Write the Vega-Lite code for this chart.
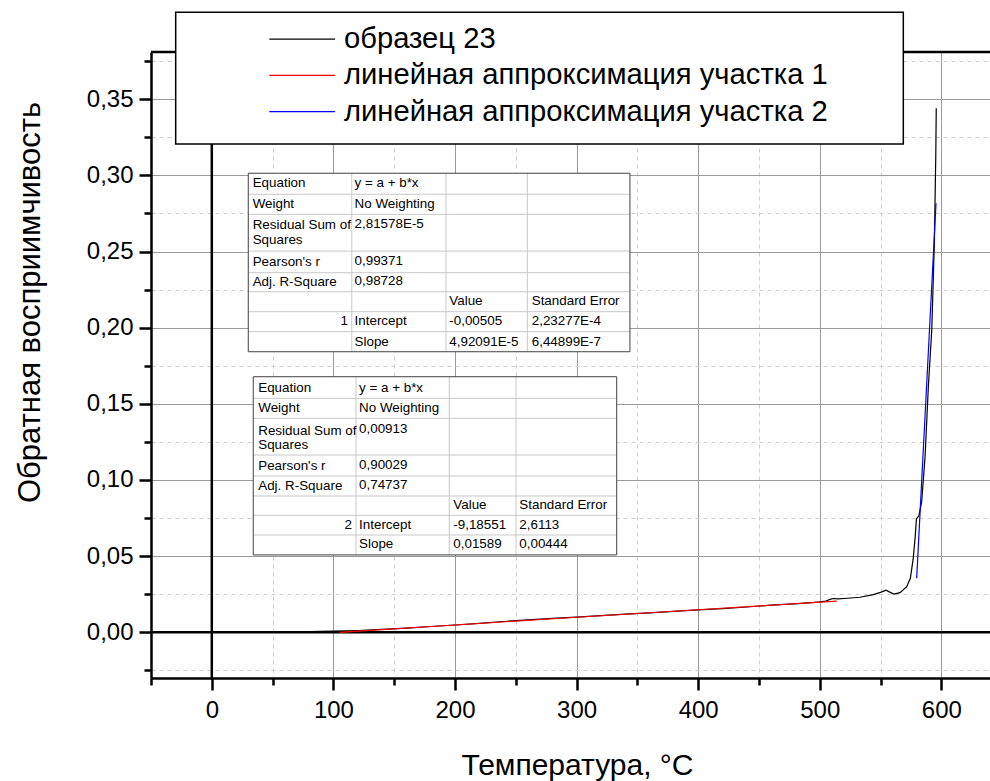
{
  "$schema": "https://vega.github.io/schema/vega-lite/v6.json",
  "width": 839,
  "height": 626,
  "autosize": "none",
  "padding": {"left": 151, "top": 52, "right": 0, "bottom": 103},
  "background": "white",
  "config": {"view": {"stroke": null}, "font": "Liberation Sans", "text": {"font": "Liberation Sans"}},
  "datasets": {
    "series": [
      {"s": "образец 23", "x": 28, "y": 0.0},
      {"s": "образец 23", "x": 40, "y": 0.0001},
      {"s": "образец 23", "x": 60, "y": 0.0003},
      {"s": "образец 23", "x": 80, "y": 0.0005},
      {"s": "образец 23", "x": 100, "y": 0.0008},
      {"s": "образец 23", "x": 120, "y": 0.0012},
      {"s": "образец 23", "x": 140, "y": 0.0019},
      {"s": "образец 23", "x": 160, "y": 0.0028},
      {"s": "образец 23", "x": 180, "y": 0.0038},
      {"s": "образец 23", "x": 200, "y": 0.0048},
      {"s": "образец 23", "x": 220, "y": 0.0059},
      {"s": "образец 23", "x": 240, "y": 0.0071},
      {"s": "образец 23", "x": 260, "y": 0.0081},
      {"s": "образец 23", "x": 280, "y": 0.0091},
      {"s": "образец 23", "x": 300, "y": 0.0100},
      {"s": "образец 23", "x": 320, "y": 0.0109},
      {"s": "образец 23", "x": 340, "y": 0.0119},
      {"s": "образец 23", "x": 360, "y": 0.0128},
      {"s": "образец 23", "x": 380, "y": 0.0138},
      {"s": "образец 23", "x": 400, "y": 0.0147},
      {"s": "образец 23", "x": 420, "y": 0.0156},
      {"s": "образец 23", "x": 440, "y": 0.0166},
      {"s": "образец 23", "x": 460, "y": 0.0178},
      {"s": "образец 23", "x": 475, "y": 0.0185},
      {"s": "образец 23", "x": 485, "y": 0.0190},
      {"s": "образец 23", "x": 495, "y": 0.0196},
      {"s": "образец 23", "x": 500, "y": 0.0200},
      {"s": "образец 23", "x": 505, "y": 0.0205},
      {"s": "образец 23", "x": 508, "y": 0.0215},
      {"s": "образец 23", "x": 511, "y": 0.0222},
      {"s": "образец 23", "x": 515, "y": 0.0219},
      {"s": "образец 23", "x": 520, "y": 0.0222},
      {"s": "образец 23", "x": 533, "y": 0.0230},
      {"s": "образец 23", "x": 544, "y": 0.0247},
      {"s": "образец 23", "x": 550, "y": 0.0262},
      {"s": "образец 23", "x": 554.5, "y": 0.0276},
      {"s": "образец 23", "x": 558, "y": 0.0262},
      {"s": "образец 23", "x": 561, "y": 0.0251},
      {"s": "образец 23", "x": 566, "y": 0.0260},
      {"s": "образец 23", "x": 571.5, "y": 0.0299},
      {"s": "образец 23", "x": 574.5, "y": 0.0355},
      {"s": "образец 23", "x": 576.8, "y": 0.0480},
      {"s": "образец 23", "x": 578.5, "y": 0.0630},
      {"s": "образец 23", "x": 579.5, "y": 0.0745},
      {"s": "образец 23", "x": 581.5, "y": 0.0765},
      {"s": "образец 23", "x": 583.8, "y": 0.0857},
      {"s": "образец 23", "x": 586.6, "y": 0.1153},
      {"s": "образец 23", "x": 589.3, "y": 0.1613},
      {"s": "образец 23", "x": 592.1, "y": 0.1985},
      {"s": "образец 23", "x": 594.2, "y": 0.2547},
      {"s": "образец 23", "x": 595.4, "y": 0.3123},
      {"s": "образец 23", "x": 595.8, "y": 0.3440},
      {"s": "линейная аппроксимация участка 1", "x": 105, "y": 0.0000},
      {"s": "линейная аппроксимация участка 1", "x": 200, "y": 0.0048},
      {"s": "линейная аппроксимация участка 1", "x": 300, "y": 0.0099},
      {"s": "линейная аппроксимация участка 1", "x": 400, "y": 0.0148},
      {"s": "линейная аппроксимация участка 1", "x": 514, "y": 0.0205},
      {"s": "линейная аппроксимация участка 2", "x": 579.7, "y": 0.0355},
      {"s": "линейная аппроксимация участка 2", "x": 595.6, "y": 0.2817}
    ],
    "legend": [
      {"s": "образец 23", "x": 47.3, "x2": 101.3, "tx": 108.7, "y": 0.3895},
      {"s": "линейная аппроксимация участка 1", "x": 47.3, "x2": 101.3, "tx": 108.7, "y": 0.3657},
      {"s": "линейная аппроксимация участка 2", "x": 47.3, "x2": 101.3, "tx": 108.7, "y": 0.3418}
    ],
    "legendBox": [
      {"x": -29.7, "x2": 568.7, "y": 0.3206, "y2": 0.4071}
    ],
    "tbox": [
      {"t": 1, "x": 30.0, "x2": 343.9, "y": 0.1842, "y2": 0.3014},
      {"t": 2, "x": 34.1, "x2": 333.0, "y": 0.0508, "y2": 0.1678}
    ],
    "tgrid": [
      {"x": 30.0, "x2": 343.9, "y": 0.2876, "y2": 0.2876},
      {"x": 30.0, "x2": 343.9, "y": 0.2744, "y2": 0.2744},
      {"x": 30.0, "x2": 343.9, "y": 0.2503, "y2": 0.2503},
      {"x": 30.0, "x2": 343.9, "y": 0.2361, "y2": 0.2361},
      {"x": 30.0, "x2": 343.9, "y": 0.2236, "y2": 0.2236},
      {"x": 30.0, "x2": 343.9, "y": 0.2105, "y2": 0.2105},
      {"x": 30.0, "x2": 343.9, "y": 0.1974, "y2": 0.1974},
      {"x": 115.1, "x2": 115.1, "y": 0.1842, "y2": 0.3014},
      {"x": 192.6, "x2": 192.6, "y": 0.1842, "y2": 0.3014},
      {"x": 259.5, "x2": 259.5, "y": 0.1842, "y2": 0.3014},
      {"x": 34.1, "x2": 333.0, "y": 0.1536, "y2": 0.1536},
      {"x": 34.1, "x2": 333.0, "y": 0.1405, "y2": 0.1405},
      {"x": 34.1, "x2": 333.0, "y": 0.1164, "y2": 0.1164},
      {"x": 34.1, "x2": 333.0, "y": 0.1026, "y2": 0.1026},
      {"x": 34.1, "x2": 333.0, "y": 0.0895, "y2": 0.0895},
      {"x": 34.1, "x2": 333.0, "y": 0.0768, "y2": 0.0768},
      {"x": 34.1, "x2": 333.0, "y": 0.0639, "y2": 0.0639},
      {"x": 118.6, "x2": 118.6, "y": 0.0508, "y2": 0.1678},
      {"x": 195.3, "x2": 195.3, "y": 0.0508, "y2": 0.1678},
      {"x": 250.2, "x2": 250.2, "y": 0.0508, "y2": 0.1678}
    ],
    "ttext": [
      {"x": 33.6, "y": 0.2947, "text": "Equation"},
      {"x": 117.4, "y": 0.2952, "text": "y = a + b*x"},
      {"x": 33.6, "y": 0.2812, "text": "Weight"},
      {"x": 117.4, "y": 0.2815, "text": "No Weighting"},
      {"x": 33.6, "y": 0.2671, "text": "Residual Sum of"},
      {"x": 33.6, "y": 0.2576, "text": "Squares"},
      {"x": 117.4, "y": 0.2680, "text": "2,81578E-5"},
      {"x": 33.6, "y": 0.2431, "text": "Pearson's r"},
      {"x": 117.4, "y": 0.2436, "text": "0,99371"},
      {"x": 33.6, "y": 0.2300, "text": "Adj. R-Square"},
      {"x": 117.4, "y": 0.2305, "text": "0,98728"},
      {"x": 195.3, "y": 0.2172, "text": "Value"},
      {"x": 263.1, "y": 0.2172, "text": "Standard Error"},
      {"x": 117.4, "y": 0.2041, "text": "Intercept"},
      {"x": 195.3, "y": 0.2041, "text": "-0,00505"},
      {"x": 263.1, "y": 0.2041, "text": "2,23277E-4"},
      {"x": 117.4, "y": 0.1909, "text": "Slope"},
      {"x": 195.3, "y": 0.1909, "text": "4,92091E-5"},
      {"x": 263.1, "y": 0.1909, "text": "6,44899E-7"},
      {"x": 38.2, "y": 0.1602, "text": "Equation"},
      {"x": 121.1, "y": 0.1607, "text": "y = a + b*x"},
      {"x": 38.2, "y": 0.1471, "text": "Weight"},
      {"x": 121.1, "y": 0.1474, "text": "No Weighting"},
      {"x": 38.2, "y": 0.1324, "text": "Residual Sum of"},
      {"x": 38.2, "y": 0.1230, "text": "Squares"},
      {"x": 121.1, "y": 0.1333, "text": "0,00913"},
      {"x": 38.2, "y": 0.1092, "text": "Pearson's r"},
      {"x": 121.1, "y": 0.1097, "text": "0,90029"},
      {"x": 38.2, "y": 0.0960, "text": "Adj. R-Square"},
      {"x": 121.1, "y": 0.0965, "text": "0,74737"},
      {"x": 198.6, "y": 0.0836, "text": "Value"},
      {"x": 252.9, "y": 0.0836, "text": "Standard Error"},
      {"x": 121.1, "y": 0.0704, "text": "Intercept"},
      {"x": 198.6, "y": 0.0704, "text": "-9,18551"},
      {"x": 252.9, "y": 0.0704, "text": "2,6113"},
      {"x": 121.1, "y": 0.0578, "text": "Slope"},
      {"x": 198.6, "y": 0.0578, "text": "0,01589"},
      {"x": 252.9, "y": 0.0578, "text": "0,00444"}
    ],
    "tindex": [
      {"x": 112.0, "y": 0.2041, "text": "1"},
      {"x": 115.3, "y": 0.0704, "text": "2"}
    ]
  },
  "layer": [
    {
      "data": {"values": [{}]},
      "mark": {"type": "rule", "color": "black", "strokeWidth": 2.5},
      "encoding": {
        "y": {"datum": 0, "type": "quantitative", "scale": {"domain": [-0.03, 0.381], "nice": false, "zero": false}}
      }
    },
    {
      "data": {"values": [{}]},
      "mark": {"type": "rule", "color": "black", "strokeWidth": 2.5},
      "encoding": {
        "y": {"datum": 0.381, "type": "quantitative", "scale": {"domain": [-0.03, 0.381], "nice": false, "zero": false}}
      }
    },
    {
      "data": {"values": [{}]},
      "mark": {"type": "rule", "color": "black", "strokeWidth": 2.5},
      "encoding": {
        "x": {"datum": 0, "type": "quantitative", "scale": {"domain": [-50, 640], "nice": false, "zero": false}}
      }
    },
    {
      "data": {"name": "series"},
      "mark": {"type": "line", "strokeWidth": 1.2},
      "encoding": {
        "x": {
          "field": "x", "type": "quantitative",
          "scale": {"domain": [-50, 640], "nice": false, "zero": false},
          "axis": {
            "values": [-50, 0, 50, 100, 150, 200, 250, 300, 350, 400, 450, 500, 550, 600],
            "tickCount": 60,
            "title": "Температура, °C",
            "titleFontSize": 30, "titleFontWeight": "normal", "titleColor": "black",
            "titleBaseline": "alphabetic", "titleAlign": "center", "titleX": 426, "titleY": 96,
            "labelFontSize": 24, "labelColor": "black", "labelPadding": 8,
            "labelFlush": false, "labelOverlap": false,
            "labelExpr": "datum.value % 100 === 0 ? format(datum.value, 'd') : ''",
            "domainColor": "black", "domainWidth": 2.5,
            "tickColor": "black", "tickWidth": 2.5,
            "tickSize": {"condition": {"test": "datum.value % 100 === 0", "value": 12}, "value": 7},
            "grid": true, "gridWidth": 1,
            "gridColor": {"condition": {"test": "datum.value % 100 === 0", "value": "#9a9a9a"}, "value": "#cccccc"},
            "gridDash": {"condition": {"test": "datum.value % 100 === 0", "value": []}, "value": [4, 4]}
          }
        },
        "y": {
          "field": "y", "type": "quantitative",
          "scale": {"domain": [-0.03, 0.381], "nice": false, "zero": false},
          "axis": {
            "values": [-0.025, 0, 0.025, 0.05, 0.075, 0.1, 0.125, 0.15, 0.175, 0.2, 0.225, 0.25, 0.275, 0.3, 0.325, 0.35, 0.375],
            "tickCount": 60,
            "title": "Обратная восприимчивость",
            "titleFontSize": 31, "titleFontWeight": "normal", "titleColor": "black",
            "titleAlign": "center", "titleBaseline": "middle", "titleX": -121, "titleY": 250, "titleAngle": -90,
            "labelFontSize": 24, "labelColor": "black", "labelPadding": 6,
            "labelFlush": false, "labelOverlap": false,
            "labelExpr": "round(datum.value * 1000) % 50 === 0 ? replace(format(datum.value, '.2f'), '.', ',') : ''",
            "domainColor": "black", "domainWidth": 2.5,
            "tickColor": "black", "tickWidth": 2.5,
            "tickSize": {"condition": {"test": "round(datum.value * 1000) % 50 === 0", "value": 12}, "value": 7},
            "grid": true, "gridWidth": 1,
            "gridColor": {"condition": {"test": "round(datum.value * 1000) % 50 === 0", "value": "#9a9a9a"}, "value": "#cccccc"},
            "gridDash": {"condition": {"test": "round(datum.value * 1000) % 50 === 0", "value": []}, "value": [4, 4]}
          }
        },
        "color": {
          "field": "s", "type": "nominal",
          "scale": {"domain": ["образец 23", "линейная аппроксимация участка 1", "линейная аппроксимация участка 2"], "range": ["#000000", "#ff0000", "#0000ff"]},
          "legend": null
        }
      }
    },
    {
      "data": {"name": "tbox"},
      "mark": {"type": "rect", "fill": "white", "strokeWidth": 0},
      "encoding": {
        "x": {"field": "x", "type": "quantitative", "scale": {"domain": [-50, 640], "nice": false, "zero": false}},
        "x2": {"field": "x2"},
        "y": {"field": "y", "type": "quantitative", "scale": {"domain": [-0.03, 0.381], "nice": false, "zero": false}},
        "y2": {"field": "y2"}
      }
    },
    {
      "data": {"name": "tgrid"},
      "mark": {"type": "rule", "color": "#c8c8c8", "strokeWidth": 1},
      "encoding": {
        "x": {"field": "x", "type": "quantitative", "scale": {"domain": [-50, 640], "nice": false, "zero": false}},
        "x2": {"field": "x2"},
        "y": {"field": "y", "type": "quantitative", "scale": {"domain": [-0.03, 0.381], "nice": false, "zero": false}},
        "y2": {"field": "y2"}
      }
    },
    {
      "data": {"name": "tbox"},
      "mark": {"type": "rect", "fillOpacity": 0, "stroke": "#404040", "strokeWidth": 1},
      "encoding": {
        "x": {"field": "x", "type": "quantitative", "scale": {"domain": [-50, 640], "nice": false, "zero": false}},
        "x2": {"field": "x2"},
        "y": {"field": "y", "type": "quantitative", "scale": {"domain": [-0.03, 0.381], "nice": false, "zero": false}},
        "y2": {"field": "y2"}
      }
    },
    {
      "data": {"name": "ttext"},
      "mark": {"type": "text", "align": "left", "baseline": "middle", "fontSize": 13.4, "color": "black"},
      "encoding": {
        "x": {"field": "x", "type": "quantitative", "scale": {"domain": [-50, 640], "nice": false, "zero": false}},
        "y": {"field": "y", "type": "quantitative", "scale": {"domain": [-0.03, 0.381], "nice": false, "zero": false}},
        "text": {"field": "text"}
      }
    },
    {
      "data": {"name": "tindex"},
      "mark": {"type": "text", "align": "right", "baseline": "middle", "fontSize": 13.4, "color": "black"},
      "encoding": {
        "x": {"field": "x", "type": "quantitative", "scale": {"domain": [-50, 640], "nice": false, "zero": false}},
        "y": {"field": "y", "type": "quantitative", "scale": {"domain": [-0.03, 0.381], "nice": false, "zero": false}},
        "text": {"field": "text"}
      }
    },
    {
      "data": {"name": "legendBox"},
      "mark": {"type": "rect", "fill": "white", "stroke": "black", "strokeWidth": 1.5},
      "encoding": {
        "x": {"field": "x", "type": "quantitative", "scale": {"domain": [-50, 640], "nice": false, "zero": false}},
        "x2": {"field": "x2"},
        "y": {"field": "y", "type": "quantitative", "scale": {"domain": [-0.03, 0.381], "nice": false, "zero": false}},
        "y2": {"field": "y2"}
      }
    },
    {
      "data": {"name": "legend"},
      "mark": {"type": "rule", "strokeWidth": 1.2},
      "encoding": {
        "x": {"field": "x", "type": "quantitative", "scale": {"domain": [-50, 640], "nice": false, "zero": false}},
        "x2": {"field": "x2"},
        "y": {"field": "y", "type": "quantitative", "scale": {"domain": [-0.03, 0.381], "nice": false, "zero": false}},
        "color": {"field": "s", "type": "nominal", "legend": null}
      }
    },
    {
      "data": {"name": "legend"},
      "mark": {"type": "text", "align": "left", "baseline": "middle", "fontSize": 29.2, "color": "black"},
      "encoding": {
        "x": {"field": "tx", "type": "quantitative", "scale": {"domain": [-50, 640], "nice": false, "zero": false}},
        "y": {"field": "y", "type": "quantitative", "scale": {"domain": [-0.03, 0.381], "nice": false, "zero": false}},
        "text": {"field": "s"}
      }
    }
  ]
}
